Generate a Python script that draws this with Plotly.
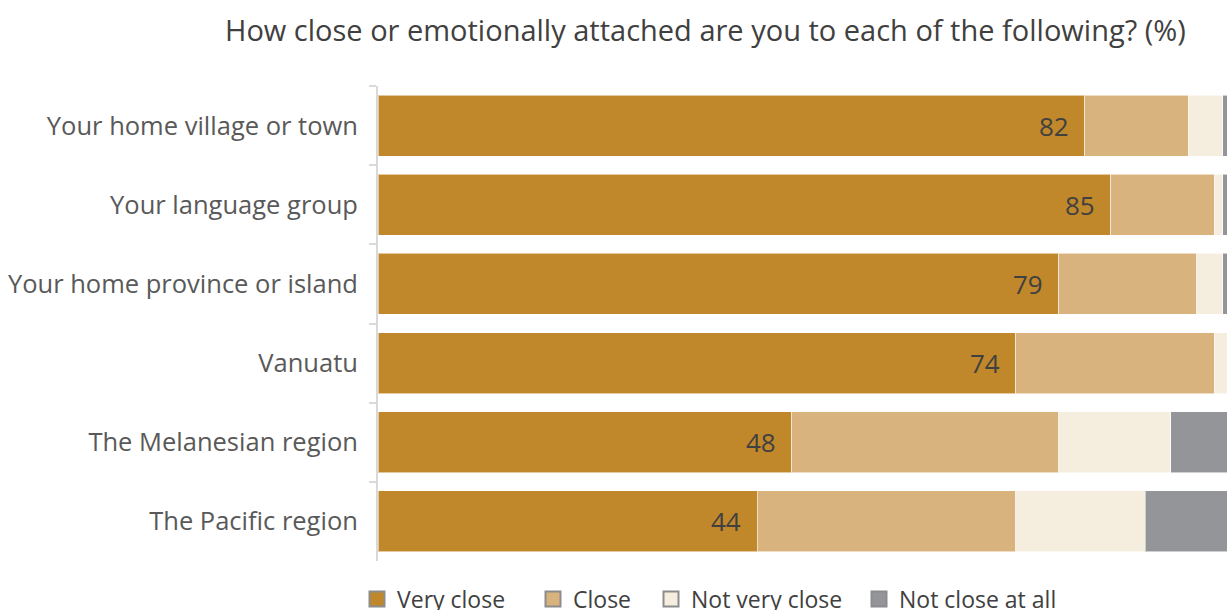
import plotly.graph_objects as go

# Survey items, top to bottom
categories = [
    "Your home village or town",
    "Your language group",
    "Your home province or island",
    "Vanuatu",
    "The Melanesian region",
    "The Pacific region",
]

# Share of respondents (%) per answer
very_close = [82, 85, 79, 74, 48, 44]
close = [12, 12, 16, 23, 31, 30]
not_very_close = [4, 1, 3, 2, 13, 15]
not_close_at_all = [2, 2, 2, 1, 8, 11]

series_names = ["Very close", "Close", "Not very close", "Not close at all"]
series_values = [very_close, close, not_very_close, not_close_at_all]
series_colors = ["#C0882B", "#D9B37D", "#F5EEDF", "#939598"]

FONT = "Open Sans"
TEXT_DARK = "#404040"

# plot area in pixels
L, R, T, B = 378, 0, 86, 49
W, H = 1227, 610
PW, PH = W - L - R, H - T - B

fig = go.Figure()
for name, vals, col in zip(series_names, series_values, series_colors):
    fig.add_trace(go.Bar(
        y=categories,
        x=vals,
        name=name,
        orientation="h",
        marker=dict(color=col, line=dict(color="rgba(255,255,255,0.55)", width=1)),
        showlegend=False,
        hoverinfo="x+name",
    ))

# legend entries: one small legend per answer, laid out in a row below the bars
legend_text_x = [396, 572, 690, 898]
for i, (name, col) in enumerate(zip(series_names, series_colors)):
    fig.add_trace(go.Scatter(
        x=[None], y=[None],
        mode="markers",
        name=name,
        marker=dict(symbol="square", size=15, color=col,
                    line=dict(color="#8C8C8C", width=2)),
        legend="legend" if i == 0 else f"legend{i + 1}",
        showlegend=True,
        hoverinfo="skip",
    ))

legend_y = -(599 - (T + PH)) / PH
for i, tx in enumerate(legend_text_x):
    key = "legend" if i == 0 else f"legend{i + 1}"
    fig.update_layout({key: dict(
        orientation="h",
        x=(tx - 39 - L) / PW, xanchor="left",
        y=legend_y, yanchor="middle",
        font=dict(family=FONT, size=23, color=TEXT_DARK),
        itemwidth=30,
        bgcolor="rgba(0,0,0,0)",
    )})

# value labels at the end of the "Very close" segment
for cat, v in zip(categories, very_close):
    fig.add_annotation(
        x=v, y=cat, xref="x", yref="y",
        text=str(v), showarrow=False,
        xanchor="right", xshift=-14, yshift=0,
        font=dict(family=FONT, size=26, color=TEXT_DARK),
    )

fig.add_annotation(
    x=(705 - L) / PW, y=1, xref="paper", yref="paper",
    xanchor="center", yanchor="middle", yshift=T - 29,
    text="How close or emotionally attached are you to each of the following? (%)",
    showarrow=False,
    font=dict(family=FONT, size=29, color=TEXT_DARK),
)

fig.update_layout(
    width=W,
    height=H,
    barmode="stack",
    bargap=0.23,
    paper_bgcolor="white",
    plot_bgcolor="white",
    margin=dict(l=L, r=R, t=T, b=B, autoexpand=False),
    font=dict(family=FONT),
)

fig.update_xaxes(
    range=[0, 98.5],
    showgrid=False, zeroline=False, showline=False,
    showticklabels=False, ticks="",
)
fig.update_yaxes(
    autorange="reversed",
    showgrid=False, zeroline=False,
    showline=True, linecolor="#D9D9D9", linewidth=2,
    ticks="outside", tickson="boundaries", ticklen=7, tickcolor="#D9D9D9", tickwidth=2,
    tickfont=dict(family=FONT, size=25.5, color="#595959"),
    ticklabelstandoff=13,
)

fig.write_html("out.html")
